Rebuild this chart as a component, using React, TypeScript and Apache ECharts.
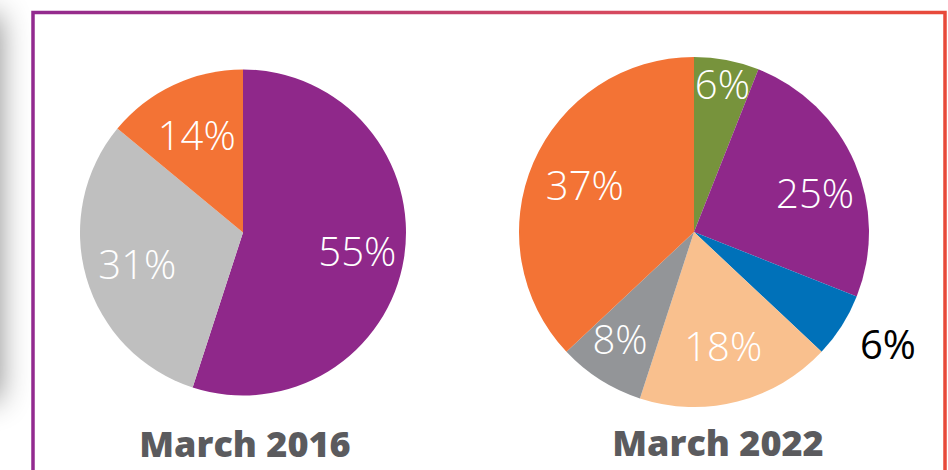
import React, { useEffect, useRef } from "react";
import * as echarts from "echarts";

// ---- data ----
const names2016 = ["Purple", "Grey", "Orange"];
const values2016 = [55, 31, 14];
const colors2016 = ["#8f288a", "#bfbfbf", "#f37335"];

const names2022 = ["Green", "Purple", "Blue", "Peach", "Grey", "Orange"];
const values2022 = [6, 25, 6, 18, 8, 37];
const colors2022 = ["#77933c", "#8f288a", "#0071b9", "#f9c08e", "#939598", "#f37335"];

const titles = ["March 2016", "March 2022"];

// label placement (fraction of radius, angular tweak in degrees)
const labelDist2016 = [0.71, 0.675, 0.667];
const labelShift2016 = [0, 0, 0];
const labelDist2022 = [0.866, 0.727, 1.277, 0.672, 0.743, 0.68];
const labelShift2022 = [0, 5.5, -2.6, 0, 2.3, 0];

const C1 = [243, 232.5];
const R1 = 163;
const C2 = [694, 232];
const R2 = 175;

function makeLayout(c: number[], R: number, dist: number[], shift: number[]) {
  return (params: any) => {
    const r = params.labelRect;
    const lx = r.x + r.width / 2;
    const ly = r.y + r.height / 2;
    const ox = lx - c[0];
    const oy = ly - c[1];
    const len = Math.sqrt(ox * ox + oy * oy) || 1;
    const ux = ox / len;
    const uy = oy / len;
    const a = (shift[params.dataIndex] * Math.PI) / 180;
    const vx = ux * Math.cos(a) - uy * Math.sin(a);
    const vy = ux * Math.sin(a) + uy * Math.cos(a);
    const d = dist[params.dataIndex] * R;
    return { dx: c[0] + vx * d - lx, dy: c[1] + vy * d - ly };
  };
}

export default function App() {
  const ref = useRef<HTMLDivElement>(null);
  useEffect(() => {
    document.body.style.margin = "0";
    const chart = echarts.init(ref.current!, null, { renderer: "svg" });
    const labelStyle = {
      show: true,
      position: "inside",
      formatter: "{c}%",
      color: "#ffffff",
      fontSize: 40,
      fontFamily: "Open Sans",
      fontWeight: 300,
    };
    chart.setOption({
      animation: false,
      backgroundColor: "#ffffff",
      graphic: [
        {
          type: "rect",
          z: 0,
          shape: { x: -50, y: 15, width: 50, height: 385 },
          style: { fill: "#b5b5b5", shadowBlur: 30, shadowColor: "rgba(0,0,0,0.45)" },
        },
        {
          type: "rect",
          z: 1,
          shape: { x: 33, y: 12.5, width: 912, height: 520 },
          style: {
            fill: "none",
            lineWidth: 3.5,
            stroke: new echarts.graphic.LinearGradient(0, 0, 1, 0, [
              { offset: 0, color: "#922a8f" },
              { offset: 0.7, color: "#dc4c5a" },
              { offset: 1, color: "#e84a3a" },
            ]),
          },
        },
        {
          type: "text",
          z: 5,
          x: 245,
          y: 443,
          style: {
            text: titles[0],
            fill: "#5b5b5e",
            font: "800 36px 'Open Sans'",
            textAlign: "center",
            textVerticalAlign: "middle",
          },
        },
        {
          type: "text",
          z: 5,
          x: 718,
          y: 442,
          style: {
            text: titles[1],
            fill: "#5b5b5e",
            font: "800 36px 'Open Sans'",
            textAlign: "center",
            textVerticalAlign: "middle",
          },
        },
      ],
      series: [
        {
          type: "pie",
          center: C1,
          radius: R1,
          startAngle: 90,
          clockwise: true,
          avoidLabelOverlap: false,
          label: labelStyle,
          labelLine: { show: false },
          labelLayout: makeLayout(C1, R1, labelDist2016, labelShift2016),
          emphasis: { disabled: true },
          data: names2016.map((n, i) => ({
            name: n,
            value: values2016[i],
            itemStyle: { color: colors2016[i] },
          })),
        },
        {
          type: "pie",
          center: C2,
          radius: R2,
          startAngle: 90,
          clockwise: true,
          avoidLabelOverlap: false,
          label: labelStyle,
          labelLine: { show: false },
          labelLayout: makeLayout(C2, R2, labelDist2022, labelShift2022),
          emphasis: { disabled: true },
          data: names2022.map((n, i) => ({
            name: n,
            value: values2022[i],
            itemStyle: { color: colors2022[i] },
            label: i === 2 ? { color: "#000000", fontWeight: 400 } : undefined,
          })),
        },
      ],
    });
    return () => chart.dispose();
  }, []);
  return <div ref={ref} style={{ width: 948, height: 470 }} />;
}
